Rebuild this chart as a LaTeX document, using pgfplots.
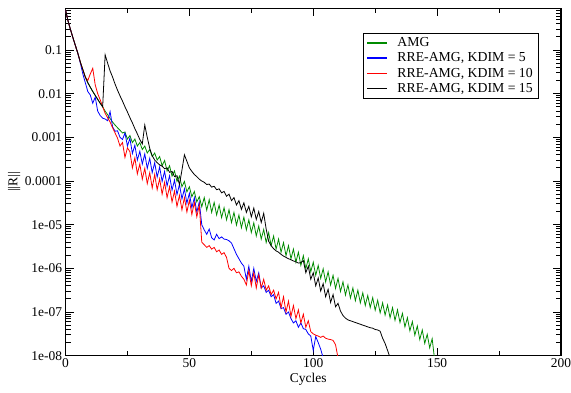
\documentclass[border=0pt]{standalone}
\usepackage{pgfplots}
\pgfplotsset{compat=1.18}
\usepackage{fontspec}
\setmainfont{Liberation Serif}
\definecolor{amggreen}{RGB}{0,139,0}
\begin{document}
\begin{tikzpicture}
\path[use as bounding box] (-65.5bp,-37.3bp) rectangle (505.5bp,355.7bp);
\begin{axis}[
  scale only axis, width=495.5bp, height=347.4bp,
  ymode=log, xmin=0, xmax=200, ymin=1e-8, ymax=0.9,
  xtick={0,50,100,150,200}, xticklabels={0,50,100,150,200},
  minor x tick num=1,
  ytick={1e-8,1e-7,1e-6,1e-5,1e-4,1e-3,1e-2,1e-1},
  yticklabels={{1e-08},{1e-07},{1e-06},{1e-05},{0.0001},{0.001},{0.01},{0.1}},
  minor ytick={2e-8,3e-8,4e-8,5e-8,6e-8,7e-8,8e-8,9e-8,
               2e-7,3e-7,4e-7,5e-7,6e-7,7e-7,8e-7,9e-7,
               2e-6,3e-6,4e-6,5e-6,6e-6,7e-6,8e-6,9e-6,
               2e-5,3e-5,4e-5,5e-5,6e-5,7e-5,8e-5,9e-5,
               2e-4,3e-4,4e-4,5e-4,6e-4,7e-4,8e-4,9e-4,
               2e-3,3e-3,4e-3,5e-3,6e-3,7e-3,8e-3,9e-3,
               2e-2,3e-2,4e-2,5e-2,6e-2,7e-2,8e-2,9e-2,
               2e-1,3e-1,4e-1,5e-1,6e-1,7e-1,8e-1},
  tick align=inside,
  major tick length=8bp, minor tick length=5bp,
  axis line style={line width=1.3pt},
  every tick/.style={black, line width=0.9pt},
  ticklabel style={font=\fontsize{13.5}{13.5}\selectfont},
  xticklabel style={yshift=1bp},
  label style={font=\fontsize{13.5}{13.5}\selectfont},
  xlabel={Cycles}, ylabel={||R||},
  xlabel style={xshift=-5bp, yshift=1bp},
  ylabel style={yshift=-2bp},
  legend cell align=left,
  legend style={at={(rel axis cs:0.600,0.929)}, anchor=north west,
    draw=black, line width=0.8pt, font=\fontsize{13.8}{15}\selectfont,
    inner xsep=3.5bp, inner ysep=2bp,
    nodes={inner ysep=1.8pt, inner xsep=2pt, text height=9.4pt, text depth=2.3pt}},
  legend image code/.code={\draw[#1, line width=1.5pt] (0bp,0bp) -- (20bp,0bp); \path[draw=none] (20bp,0bp) -- (28bp,0bp);},
  every axis plot/.append style={line width=0.8pt},
]
\addplot[color=amggreen, draw=amggreen] coordinates {
(0,0.832)(1,0.468)(2,0.295)(3,0.191)(4,0.126)(5,8.32e-2)(6,5.25e-2)(7,3.55e-2)(8,2.40e-2)(9,1.78e-2)(10,1.41e-2)(11,1.12e-2)(12,9.12e-3)(13,7.41e-3)(14,6.03e-3)(15,5.01e-3)(16,3.98e-3)(17,3.31e-3)(18,2.69e-3)(19,2.24e-3)(20,1.91e-3)(21,1.66e-3)(22,1.45e-3)(23,1.26e-3)
(24,1.32e-3)(25,9.12e-4)(26,1.10e-3)(27,7.59e-4)(28,9.12e-4)(29,6.31e-4)(30,7.59e-4)(31,5.25e-4)(32,6.31e-4)(33,4.37e-4)(34,5.25e-4)(35,3.63e-4)(36,4.37e-4)(37,3.02e-4)(38,3.63e-4)(39,2.24e-4)(40,2.95e-4)(41,1.70e-4)(42,2.24e-4)(43,1.29e-4)(44,1.70e-4)(45,9.77e-5)(46,1.29e-4)(47,7.41e-5)(48,9.77e-5)(49,5.62e-5)(50,7.41e-5)(51,4.37e-5)(52,5.75e-5)(53,3.31e-5)(54,4.37e-5)(55,2.57e-5)(56,4.17e-5)(57,2.14e-5)(58,3.72e-5)(59,1.91e-5)(60,3.24e-5)(61,1.66e-5)(62,2.82e-5)(63,1.45e-5)(64,2.45e-5)(65,1.29e-5)(66,2.19e-5)(67,1.12e-5)(68,1.91e-5)(69,9.77e-6)(70,1.66e-5)(71,8.51e-6)(72,1.48e-5)(73,7.59e-6)(74,1.29e-5)(75,6.61e-6)(76,1.10e-5)(77,5.50e-6)(78,9.33e-6)(79,4.68e-6)(80,7.76e-6)(81,3.89e-6)(82,6.61e-6)(83,3.31e-6)(84,5.50e-6)(85,2.75e-6)(86,4.68e-6)(87,2.34e-6)(88,3.89e-6)(89,1.95e-6)(90,3.31e-6)(91,1.66e-6)(92,2.75e-6)(93,1.38e-6)(94,2.34e-6)(95,1.17e-6)(96,1.95e-6)(97,9.77e-7)(98,1.66e-6)(99,8.32e-7)(100,1.38e-6)(101,6.92e-7)(102,1.17e-6)(103,5.89e-7)(104,9.77e-7)(105,4.90e-7)(106,8.32e-7)(107,4.17e-7)(108,6.92e-7)(109,3.47e-7)(110,5.89e-7)(111,2.95e-7)(112,4.90e-7)(113,2.45e-7)(114,4.17e-7)(115,2.09e-7)(116,3.55e-7)(117,1.82e-7)(118,3.16e-7)(119,1.62e-7)(120,2.75e-7)(121,1.41e-7)(122,2.40e-7)(123,1.26e-7)(124,2.14e-7)(125,1.10e-7)(126,1.86e-7)(127,9.55e-8)(128,1.62e-7)(129,8.51e-8)(130,1.45e-7)(131,7.41e-8)(132,1.26e-7)(133,6.46e-8)(134,1.12e-7)(135,5.75e-8)(136,9.33e-8)(137,4.57e-8)(138,7.41e-8)(139,3.72e-8)(140,6.03e-8)(141,2.95e-8)(142,4.79e-8)(143,2.34e-8)(144,3.89e-8)(145,1.91e-8)(146,3.09e-8)(147,1.51e-8)(148,2.45e-8)(149,7.94e-9)
};
\addlegendentry{AMG}
\addplot[color=blue, draw=blue] coordinates {
(0,0.832)(1,0.468)(2,0.295)(3,0.191)(4,0.126)(5,8.32e-2)(6,5.01e-2)(7,2.82e-2)(8,1.78e-2)(9,1.12e-2)(10,9.33e-3)(11,6.03e-3)(12,8.32e-3)(13,3.98e-3)(14,3.16e-3)(15,2.75e-3)(16,2.63e-3)(17,2.40e-3)(18,3.89e-3)(19,1.74e-3)(20,1.38e-3)(21,1.41e-3)(22,1.00e-3)(23,8.91e-4)(24,1.26e-3)(25,6.31e-4)(26,9.55e-4)(27,4.27e-4)(28,6.61e-4)(29,3.02e-4)(30,4.79e-4)
(31,2.45e-4)(32,4.17e-4)(33,1.95e-4)(34,3.31e-4)(35,1.55e-4)(36,2.63e-4)(37,1.23e-4)(38,2.09e-4)(39,9.77e-5)(40,1.66e-4)(41,7.76e-5)(42,1.32e-4)(43,6.17e-5)(44,1.05e-4)(45,4.90e-5)(46,8.32e-5)(47,3.89e-5)(48,6.61e-5)(49,3.09e-5)(50,5.25e-5)(51,2.45e-5)(52,4.17e-5)(53,1.95e-5)(54,3.31e-5)
(55,1.00e-5)(56,7.59e-6)(57,6.03e-6)(58,7.94e-6)(59,5.01e-6)(60,4.47e-6)(61,6.03e-6)(62,4.79e-6)(63,5.25e-6)(64,4.68e-6)(65,4.57e-6)(66,4.27e-6)(67,3.80e-6)(68,2.82e-6)(69,2.09e-6)(70,1.66e-6)(71,1.32e-6)(72,1.12e-6)(73,5.62e-7)(74,1.12e-6)(75,5.01e-7)(76,1.00e-6)(77,5.01e-7)(78,7.94e-7)(79,3.55e-7)(80,3.98e-7)(81,2.82e-7)(82,3.16e-7)(83,2.24e-7)(84,2.51e-7)(85,1.58e-7)(86,1.78e-7)(87,1.20e-7)(88,1.26e-7)(89,8.91e-8)(90,1.00e-7)(91,7.08e-8)(92,5.62e-8)(93,6.31e-8)(94,4.47e-8)(95,5.62e-8)(96,4.17e-8)(97,3.98e-8)(98,3.16e-8)(99,2.82e-8)(100,1.32e-8)(101,2.75e-8)(102,2.00e-8)(103,1.41e-8)(104,8.91e-9)
};
\addlegendentry{RRE-AMG, KDIM = 5}
\addplot[color=red, draw=red] coordinates {
(0,0.832)(1,0.468)(2,0.295)(3,0.191)(4,0.126)(5,8.32e-2)(6,5.25e-2)(7,3.55e-2)(8,2.40e-2)(9,2.00e-2)(10,2.82e-2)(11,3.80e-2)(12,1.58e-2)(13,1.00e-2)(14,7.24e-3)(15,5.01e-3)(16,3.55e-3)(17,2.82e-3)(18,2.24e-3)(19,1.66e-3)(20,1.26e-3)(21,9.55e-4)(22,6.31e-4)(23,7.59e-4)(24,3.47e-4)(25,5.75e-4)
(26,4.68e-4)(27,2.00e-4)(28,3.39e-4)(29,1.45e-4)(30,2.45e-4)(31,1.10e-4)(32,1.95e-4)(33,8.71e-5)(34,1.55e-4)(35,6.92e-5)(36,1.41e-4)(37,6.31e-5)(38,1.12e-4)(39,5.01e-5)(40,9.33e-5)(41,4.17e-5)(42,7.41e-5)(43,3.31e-5)(44,5.89e-5)(45,2.63e-5)(46,4.68e-5)(47,2.19e-5)(48,4.17e-5)(49,1.95e-5)(50,3.63e-5)(51,1.70e-5)(52,3.24e-5)(53,1.51e-5)(54,2.82e-5)
(55,3.98e-6)(56,3.47e-6)(57,3.02e-6)(58,3.31e-6)(59,2.75e-6)(60,3.02e-6)(61,2.40e-6)(62,2.63e-6)(63,2.09e-6)(64,2.29e-6)(65,1.78e-6)(66,1.00e-6)(67,8.91e-7)(68,1.00e-6)(69,7.94e-7)(70,8.32e-7)(71,6.61e-7)(72,5.62e-7)(73,4.17e-7)(74,8.91e-7)(75,3.98e-7)(76,7.94e-7)(77,3.55e-7)(78,7.08e-7)(79,3.55e-7)(80,5.62e-7)(81,3.16e-7)(82,3.98e-7)(83,2.51e-7)(84,3.16e-7)(85,2.00e-7)(86,2.82e-7)(87,1.26e-7)(88,2.24e-7)(89,1.00e-7)(90,1.78e-7)(91,7.94e-8)(92,1.41e-7)(93,7.08e-8)(94,1.12e-7)(95,5.62e-8)(96,8.91e-8)(97,4.47e-8)(98,6.31e-8)(99,3.55e-8)(100,3.16e-8)(101,2.95e-8)(102,2.82e-8)(103,2.63e-8)(104,2.82e-8)(105,2.51e-8)(106,2.40e-8)(107,2.34e-8)(108,2.24e-8)(109,1.78e-8)(110,8.91e-9)
};
\addlegendentry{RRE-AMG, KDIM = 10}
\addplot[color=black, draw=black] coordinates {
(0,0.832)(1,0.468)(2,0.295)(3,0.191)(4,0.126)(5,8.32e-2)(6,5.25e-2)(7,3.55e-2)(8,2.40e-2)(9,1.78e-2)(10,1.41e-2)(11,1.12e-2)(12,9.12e-3)(13,7.41e-3)(14,6.03e-3)(15,5.01e-3)
(16,7.76e-2)(17,5.01e-2)(18,3.31e-2)(19,2.40e-2)(20,1.66e-2)(21,1.20e-2)(22,8.91e-3)(23,6.76e-3)(24,5.01e-3)(25,3.80e-3)(26,2.82e-3)(27,2.14e-3)(28,1.58e-3)(29,1.20e-3)(30,8.91e-4)(31,7.08e-4)
(32,1.91e-3)(33,1.00e-3)(34,5.62e-4)(35,3.80e-4)(36,3.02e-4)(37,2.63e-4)(38,2.34e-4)(39,2.19e-4)(40,1.91e-4)(41,2.00e-4)(42,1.58e-4)(43,1.66e-4)(44,1.26e-4)(45,1.32e-4)(46,8.32e-5)
(47,1.78e-4)(48,3.98e-4)(49,2.82e-4)(50,2.00e-4)(51,1.66e-4)(52,1.41e-4)(53,1.26e-4)(54,1.10e-4)(55,1.00e-4)(56,9.33e-5)(57,8.32e-5)(58,8.51e-5)(59,7.24e-5)(60,7.59e-5)(61,6.31e-5)(62,6.61e-5)(63,5.37e-5)(64,5.75e-5)(65,4.47e-5)(66,5.01e-5)(67,3.55e-5)(68,4.17e-5)(69,2.82e-5)(70,3.55e-5)(71,2.24e-5)(72,3.16e-5)(73,1.91e-5)(74,2.63e-5)(75,1.51e-5)(76,2.40e-5)(77,1.32e-5)(78,2.00e-5)(79,1.12e-5)(80,1.82e-5)
(81,7.94e-6)(82,4.17e-6)(83,3.31e-6)(84,2.82e-6)(85,2.51e-6)(86,2.34e-6)(87,2.09e-6)(88,1.91e-6)(89,1.78e-6)(90,1.66e-6)(91,1.58e-6)(92,1.48e-6)(93,1.41e-6)(94,1.32e-6)(95,1.35e-6)(96,1.51e-6)(97,7.94e-7)(98,1.12e-6)(99,5.62e-7)(100,7.94e-7)(101,3.98e-7)(102,6.03e-7)(103,3.02e-7)(104,4.47e-7)(105,2.24e-7)(106,3.31e-7)(107,1.66e-7)(108,2.51e-7)(109,1.32e-7)(110,1.58e-7)
(111,1.05e-7)(112,8.32e-8)(113,7.24e-8)(114,6.61e-8)(115,6.31e-8)(116,6.03e-8)(117,5.75e-8)(118,5.50e-8)(119,5.25e-8)(120,5.01e-8)(121,4.79e-8)(122,4.57e-8)(123,4.37e-8)(124,4.27e-8)(125,3.98e-8)(126,3.89e-8)(127,3.63e-8)(128,2.51e-8)(129,1.91e-8)(130,1.32e-8)(131,8.91e-9)
};
\addlegendentry{RRE-AMG, KDIM = 15}
\end{axis}
\end{tikzpicture}
\end{document}
